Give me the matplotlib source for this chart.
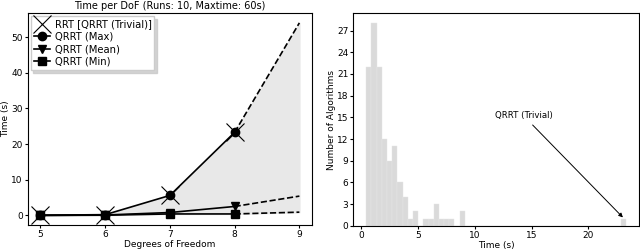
import matplotlib
matplotlib.use("Agg")
import matplotlib.pyplot as plt
import numpy as np

# Left chart data
dof = [5, 6, 7, 8]
dof_ext = [8, 9]
rrt_trivial = [0.0, 0.1, 5.7, 23.3]
qrrt_max = [0.05, 0.2, 5.6, 23.3]
qrrt_mean = [0.0, 0.1, 0.8, 2.5]
qrrt_min = [0.0, 0.05, 0.4, 0.4]
max_ext = [23.3, 54.0]
mean_ext = [2.5, 5.4]
min_ext = [0.4, 0.9]

# Right chart data (histogram, 50 bins)
hist_lo = 0.44
hist_hi = 23.3
hist_counts = [22, 28, 22, 12, 9, 11, 6, 4, 1, 2, 0, 1, 1, 3, 1, 1, 1, 0, 2] + [0] * 30 + [1]

plt.rcParams['font.family'] = ['DejaVu Sans']
fig = plt.figure(figsize=(6.4, 2.5), dpi=100)
ax1 = fig.add_axes([0.043, 0.1, 0.445, 0.847])
ax2 = fig.add_axes([0.552, 0.097, 0.446, 0.85])

fs = 6.5
# shaded region
xs_all = dof + [9]
top = qrrt_max + [max_ext[1]]
bot = qrrt_min + [min_ext[1]]
ax1.fill_between(xs_all, bot, top, color='#e8e8e8', zorder=0)

ax1.plot(dof, rrt_trivial, linestyle='none', marker='x', markersize=13, markeredgewidth=0.8,
         color='black', label='RRT [QRRT (Trivial)]', zorder=4)
ax1.plot(dof, qrrt_max, '-', marker='o', markersize=6, color='black', lw=1.2, label='QRRT (Max)', zorder=3)
ax1.plot(dof, qrrt_mean, '-', marker='v', markersize=6, color='black', lw=1.2, label='QRRT (Mean)', zorder=3)
ax1.plot(dof, qrrt_min, '-', marker='s', markersize=5.5, color='black', lw=1.2, label='QRRT (Min)', zorder=3)
ax1.plot(dof_ext, max_ext, '--', color='black', lw=1.2, zorder=2)
ax1.plot(dof_ext, mean_ext, '--', color='black', lw=1.2, zorder=2)
ax1.plot(dof_ext, min_ext, '--', color='black', lw=1.2, zorder=2)

ax1.set_xticks([5, 6, 7, 8, 9])
ax1.set_yticks([0, 10, 20, 30, 40, 50])
ax1.tick_params(labelsize=fs, length=2, pad=1.5)
ax1.set_xlabel('Degrees of Freedom', fontsize=fs, labelpad=1)
ax1.set_ylabel('Time (s)', fontsize=fs, labelpad=1)
ax1.set_title('Time per DoF (Runs: 10, Maxtime: 60s)', fontsize=fs + 0.5, pad=3)
ax1.legend(loc='upper left', fontsize=fs + 0.7, handlelength=1.6, borderpad=0.3,
           labelspacing=0.25, handletextpad=0.5, borderaxespad=0.3, fancybox=False,
           shadow={'color': '#c8c8c8', 'alpha': 0.8}, framealpha=1)

# histogram
edges = np.linspace(hist_lo, hist_hi, len(hist_counts) + 1)
centers = (edges[:-1] + edges[1:]) / 2
ax2.hist(centers, bins=edges, weights=hist_counts, color='#dadada', edgecolor='#e6e6e6', linewidth=0.3)
ax2.set_yticks(range(0, 28, 3))
ax2.set_xticks([0, 5, 10, 15, 20])
ax2.tick_params(labelsize=fs, length=2, pad=1.5)
ax2.set_xlabel('Time (s)', fontsize=fs, labelpad=1)
ax2.set_ylabel('Number of Algorithms', fontsize=fs, labelpad=1)
ax2.annotate('QRRT (Trivial)', xy=(23.05, 1.15), xytext=(14.3, 14.6), fontsize=fs - 0.3,
             ha='center', va='bottom',
             arrowprops=dict(arrowstyle='-|>', color='black', lw=0.7, mutation_scale=6,
                             shrinkA=2, shrinkB=0))

for ax in (ax1, ax2):
    for s in ax.spines.values():
        s.set_linewidth(0.8)

fig.savefig('out.png', dpi=100)
